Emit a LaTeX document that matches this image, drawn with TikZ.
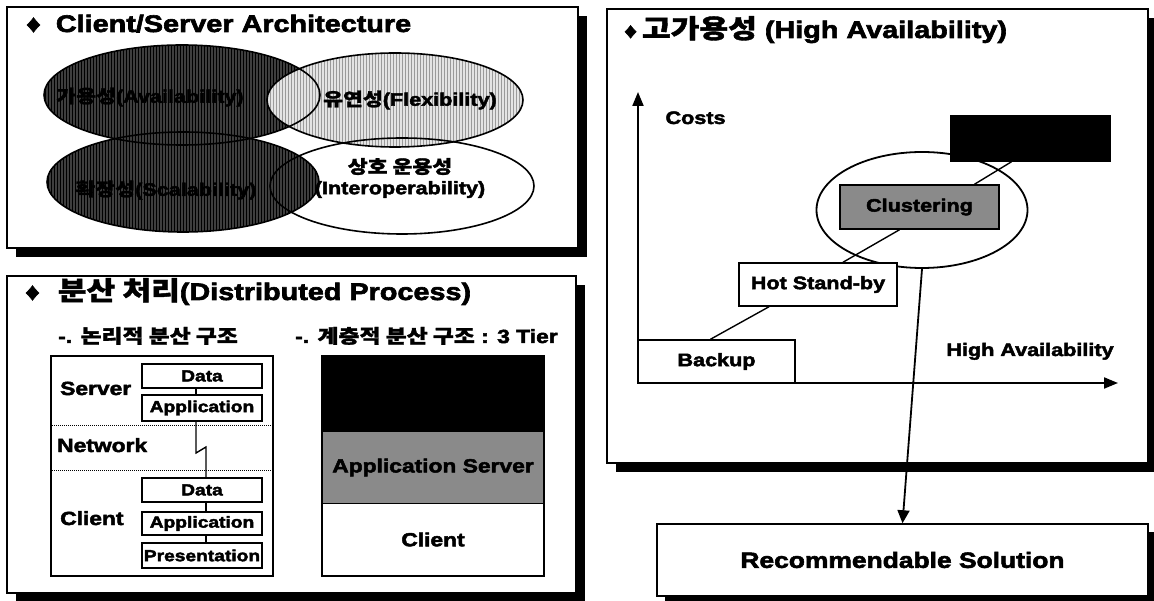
\documentclass[tikz,border=0pt]{standalone}
\usepackage{fontspec}
\setmainfont{Liberation Sans}[FakeStretch=1.2,BoldFeatures={FakeBold=2.6}]
\newfontfamily\hangul{Noto Sans CJK KR}[FakeStretch=1.2,BoldFeatures={FakeBold=1.5}]
\usetikzlibrary{arrows.meta,calc,positioning,patterns,shapes.geometric,shadows}
\definecolor{csInk}{HTML}{000000}
\definecolor{csHatchDark}{HTML}{3E3E3E}
\definecolor{csHatchLight}{HTML}{E4E4E4}
\definecolor{csStripe}{HTML}{9A9A9A}
\definecolor{csGrain}{HTML}{8A8A8A}
\newcommand{\kr}[1]{{\hangul\bfseries #1}}

\begin{document}
\begin{tikzpicture}[x=1pt,y=-1pt,text=csInk,
  font=\bfseries\fontsize{18}{21}\selectfont,
  panelframe/.style={draw=csInk,line width=1.6pt,fill=white,
    drop shadow={shadow xshift=9pt,shadow yshift=-9pt,opacity=1,fill=csInk}},
  paneltitle/.style={anchor=base west,inner sep=0pt,font=\bfseries\fontsize{24}{28}\selectfont},
  subhead/.style={anchor=base west,inner sep=0pt,font=\bfseries\fontsize{19}{22}\selectfont},
  sidelabel/.style={anchor=base west,inner sep=0pt,font=\bfseries\fontsize{19}{22}\selectfont},
  oval/.style={draw=csInk,line width=1.6pt},
  darkoval/.style={preaction={fill=csHatchDark},pattern=vertical lines,pattern color=csInk},
  lightoval/.style={preaction={fill=csHatchLight},pattern=vertical lines,pattern color=csStripe},
  layer/.style={draw=csInk,line width=1.3pt,fill=white,minimum width=120,inner sep=0pt,
    font=\bfseries\fontsize{16}{18}\selectfont},
  tier/.style={minimum width=222,inner sep=0pt,font=\bfseries\fontsize{19}{22}\selectfont},
  stepbox/.style={draw=csInk,line width=1.5pt,fill=white,minimum width=158,minimum height=43,inner sep=0pt},
  link/.style={draw=csInk,line width=1.4pt},
  axisline/.style={draw=csInk,line width=2pt,-{Triangle[length=14pt,width=11pt]}}]
  \useasboundingbox (0,0) rectangle (1154,601);

  % three framed panels with solid drop shadows
  \filldraw[panelframe] (7,7) rectangle (578,248);
  \filldraw[panelframe] (7,276) rectangle (576,593);
  \filldraw[panelframe] (607,9) rectangle (1148,463);

  % ---- Client/Server Architecture
  \node[paneltitle] (csTitle) at (26,32) {♦\hspace{15pt}Client/Server Architecture};
  \coordinate (ovAvail) at (182,95);
  \coordinate (ovScale) at (183,182);
  \coordinate (ovFlex) at (395,100);
  \coordinate (ovInter) at (402,186);
  \fill[white] (ovInter) ellipse [x radius=132,y radius=48];
  \path[darkoval] (ovAvail) ellipse [x radius=138,y radius=50];
  \path[darkoval] (ovScale) ellipse [x radius=136,y radius=50];
  \path[lightoval] (ovFlex) ellipse [x radius=128,y radius=47];
  \foreach \c/\rx/\ry in {ovAvail/138/50,ovScale/136/50,ovFlex/128/47,ovInter/132/48}
    {\draw[oval] (\c) ellipse [x radius=\rx,y radius=\ry];}
  \node (availText) at (150,97) {\kr{가용성}(Availability)};
  \node (scaleText) at (166,190) {\kr{확장성}(Scalability)};
  \node (flexText) at (410,100) {\kr{유연성}(Flexibility)};
  \node[align=center] (interText) at (400,178) {\kr{상호 운용성}\\(Interoperability)};

  % ---- Distributed Process
  \node[paneltitle] (dpTitle) at (25,300) {♦\hspace{18pt}{\fontsize{26}{28}\selectfont\kr{분산 처리}}(Distributed Process)};
  \node[subhead] (logicHead) at (58,343) {-. \kr{논리적 분산 구조}};
  \node[subhead] (tierHead) at (295,343) {-. \kr{계층적 분산 구조} : 3 Tier};

  \draw[line width=1.3pt] (51,356) rectangle (273,576);
  \foreach \y in {426,470}
    {\draw[line width=1pt,densely dotted] (52,\y) -- (272,\y);}
  \node[sidelabel] (serverLabel) at (60,395) {Server};
  \node[sidelabel] (networkLabel) at (57,452) {Network};
  \node[sidelabel] (clientLabel) at (60,525) {Client};

  \node[layer,minimum height=24] (sData) at (202,376) {Data};
  \node[layer,minimum height=26] (sApp) at (202,408) {Application};
  \node[layer,minimum height=24] (cData) at (202,490) {Data};
  \node[layer,minimum height=23] (cApp) at (202,523.5) {Application};
  \node[layer,minimum height=25,line width=2.2pt] (cPres) at (202,555.5) {Presentation};

  \coordinate (zigA) at (196,453);
  \coordinate (zigB) at (206,447);
  \draw[link] (sData.south -| zigA) -- (sApp.north -| zigA);
  \draw[link] (sApp.south -| zigA) -- (zigA) -- (zigB) -- (cData.north -| zigB);
  \draw[link] (cData.south -| zigB) -- (cApp.north -| zigB);
  \draw[link] (cApp.south -| zigB) -- (cPres.north -| zigB);

  \node[tier,minimum height=76,fill=csInk] (tierTop) at (433,394) {};
  \node[tier,minimum height=71,fill=csGrain] (tierMid) at (433,467.5) {Application Server};
  \node[tier,minimum height=73,fill=white] (tierBot) at (433,539.5) {Client};
  \draw[line width=1.5pt] (tierTop.north west) rectangle (tierBot.south east);
  \draw[line width=1pt] (tierMid.south west) -- (tierMid.south east);

  % ---- High Availability
  \node[paneltitle] (haTitle) at (624,38) {{\fontsize{21}{24}\selectfont♦}\hspace{5pt}{\fontsize{26}{28}\selectfont\kr{고가용성}} (High Availability)};
  \coordinate (origin) at (638,383);
  \coordinate (yTip) at (638,92);
  \coordinate (xTip) at (1118,383);
  \draw[axisline] (origin) -- (yTip);
  \draw[axisline] (origin) -- (xTip);
  \node[anchor=base west] (costLabel) at (662,124) {Costs};
  \node[anchor=base] (availLabel) at (1030,356) {High Availability};

  \node[ellipse,draw=csInk,line width=1.8pt,minimum width=211,minimum height=116] (clusterRing) at (922,210) {};
  \node[stepbox,minimum width=157] (backup) at (716.5,361.5) {Backup};
  \node[stepbox] (hotStandby) at (818,284.5) {Hot Stand-by};
  \node[stepbox,fill=csGrain,minimum width=159,minimum height=44] (clustering) at (919.5,207) {Clustering};
  \node[stepbox,fill=csInk,minimum width=159,minimum height=45] (faultBox) at (1030.5,138.5) {};
  \draw[link] ($(backup.north)+(-6,0)$) -- ($(hotStandby.south)+(-49,0)$);
  \draw[link] ($(hotStandby.north)+(25,0)$) -- ($(clustering.south)+(-20,0)$);
  \draw[link] ($(clustering.north)+(55,0)$) -- ($(faultBox.south)+(-19,0)$);

  \node[draw=csInk,line width=1.5pt,fill=white,minimum width=491,minimum height=72,inner sep=0pt,
    drop shadow={shadow xshift=8pt,shadow yshift=-8pt,opacity=1,fill=csInk},
    font=\bfseries\fontsize{22}{26}\selectfont] (recBox) at (902.5,560) {Recommendable Solution};
  \draw[line width=1.8pt,-{Triangle[length=13pt,width=12pt]}] (clusterRing.south) -- (recBox.north);
\end{tikzpicture}
\end{document}
